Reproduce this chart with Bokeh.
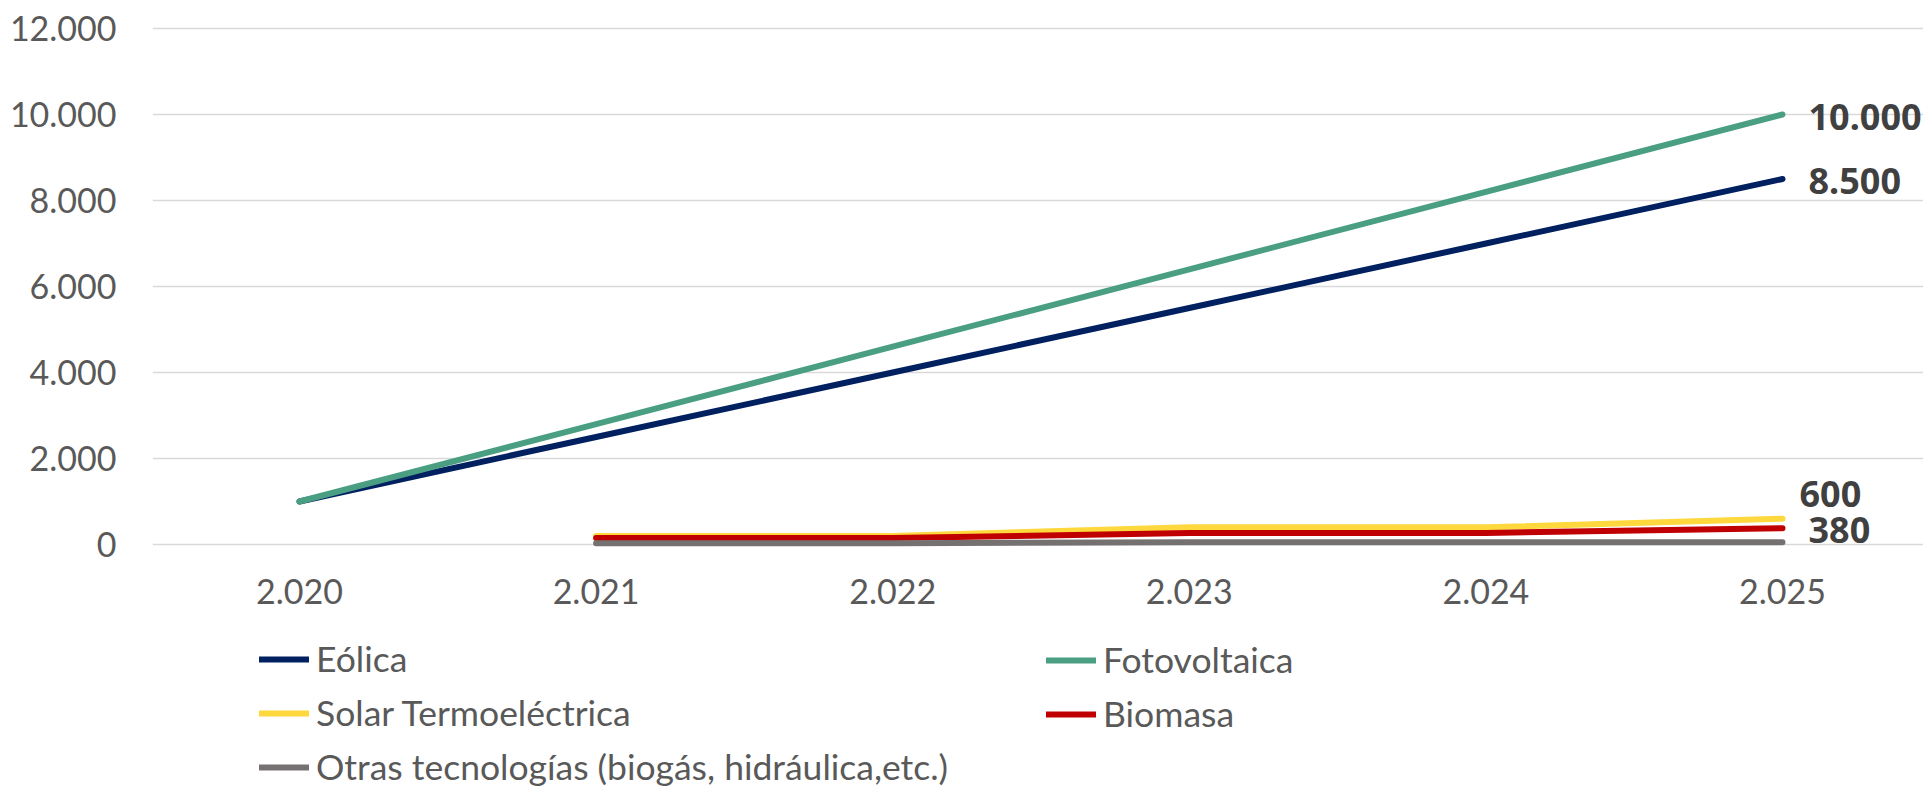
from bokeh.plotting import figure
from bokeh.models import (ColumnDataSource, Range1d, FixedTicker, CustomJSTickFormatter,
                          Legend, LegendItem, LabelSet)
from bokeh.core.properties import value
from bokeh.embed import file_html
from bokeh.resources import INLINE

# ---- data ----
years = [2020, 2021, 2022, 2023, 2024, 2025]
eolica = [1000, 2500, 4000, 5500, 7000, 8500]
fotovoltaica = [1000, 2800, 4600, 6400, 8200, 10000]
solar_termo = [None, 200, 200, 400, 400, 600]
biomasa = [None, 150, 150, 270, 270, 380]
otras = [None, 30, 30, 50, 50, 55]

series_names = ["Eólica", "Fotovoltaica", "Solar Termoeléctrica", "Biomasa",
                "Otras tecnologías (biogás, hidráulica,etc.)"]
series_values = [eolica, fotovoltaica, solar_termo, biomasa, otras]
series_colors = ["#002060", "#4A9F82", "#FFD83D", "#C00000", "#767171"]

y_ticks = [0, 2000, 4000, 6000, 8000, 10000, 12000]

label_values = [10000, 8500, 600, 380]
label_x_off = [26, 26, 17, 26]
label_y_off = [-2, -2, 25, -2]

FONT = "Lato"
TICK_COLOR = "#595959"

p = figure(width=1923, height=787, output_backend="svg", toolbar_location=None,
           x_range=Range1d(2019.5044, 2025.4754), y_range=Range1d(-5651, 12070),
           min_border_left=152, min_border_right=0, min_border_top=25, min_border_bottom=0)
p.outline_line_color = None
p.background_fill_color = "white"
p.border_fill_color = "white"

fmt = CustomJSTickFormatter(code="""
return tick.toFixed(0).replace(/\\B(?=(\\d{3})+(?!\\d))/g, ".");
""")

# axes
p.xaxis.ticker = FixedTicker(ticks=years)
p.yaxis.ticker = FixedTicker(ticks=y_ticks)
p.xaxis.formatter = fmt
p.yaxis.formatter = fmt
p.xaxis.fixed_location = 0
for ax in (p.xaxis[0], p.yaxis[0]):
    ax.axis_line_color = None
    ax.major_tick_line_color = None
    ax.minor_tick_line_color = None
    ax.major_tick_out = 0
    ax.major_tick_in = 0
    ax.minor_tick_out = 0
    ax.major_label_text_font = FONT
    ax.major_label_text_font_size = "34px"
    ax.major_label_text_color = TICK_COLOR
p.yaxis.major_label_standoff = 36
p.xaxis.major_label_standoff = 34

p.xgrid.grid_line_color = None
p.ygrid.grid_line_color = "#D9D9D9"
p.ygrid.grid_line_width = 1.6

renderers = []
for name, vals, col in zip(series_names, series_values, series_colors):
    ys = [float("nan") if v is None else v for v in vals]
    src = ColumnDataSource(dict(x=years, y=ys))
    r = p.line("x", "y", source=src, line_color=col, line_width=6,
               line_cap="round", line_join="round")
    renderers.append(r)

# data labels
lab_src = ColumnDataSource(dict(
    x=[years[-1]] * len(label_values),
    y=label_values,
    text=[f"{v:,}".replace(",", ".") for v in label_values],
    xo=label_x_off, yo=label_y_off))
labels = LabelSet(x="x", y="y", text="text", source=lab_src, x_offset="xo", y_offset="yo",
                  text_font=value("Noto Sans"), text_font_size=value("36px"),
                  text_font_style=value("bold"),
                  text_color=value("#404040"), text_baseline=value("middle"),
                  text_align=value("left"))
p.add_layout(labels)

def make_legend(idx, loc):
    items = [LegendItem(label=series_names[i], renderers=[renderers[i]]) for i in idx]
    lg = Legend(items=items, location=loc, orientation="vertical",
                label_text_font=FONT, label_text_font_size="35.5px",
                label_text_color=TICK_COLOR, glyph_width=50, glyph_height=42,
                label_height=42, label_standoff=7, spacing=11, padding=0, margin=0,
                border_line_color=None, background_fill_alpha=0)
    return lg

p.add_layout(make_legend([0, 2, 4], (107, -1)))
p.add_layout(make_legend([1, 3], (894, 52)))

open("out.html", "w").write(file_html(p, INLINE))
